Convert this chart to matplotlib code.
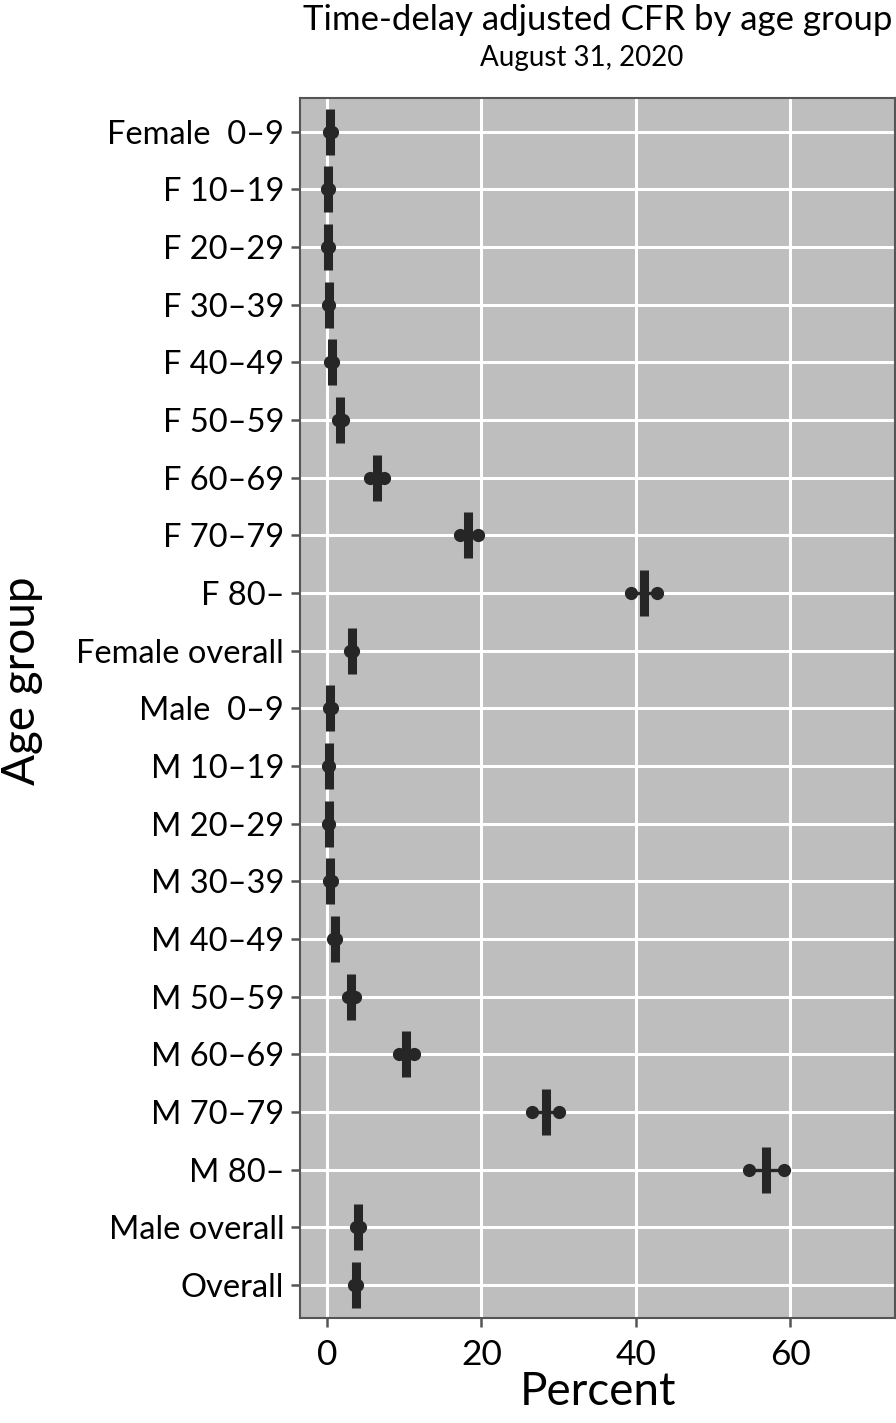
import matplotlib
matplotlib.use("Agg")
from matplotlib import pyplot as plt

plt.rcParams['font.family'] = ['Lato', 'DejaVu Sans']

groups = ['Female  0–9', 'F 10–19', 'F 20–29', 'F 30–39', 'F 40–49', 'F 50–59',
          'F 60–69', 'F 70–79', 'F 80–', 'Female overall',
          'Male  0–9', 'M 10–19', 'M 20–29', 'M 30–39', 'M 40–49', 'M 50–59',
          'M 60–69', 'M 70–79', 'M 80–', 'Male overall', 'Overall']
cfr = [0.4, 0.1, 0.1, 0.2, 0.6, 1.7, 6.5, 18.3, 41.1, 3.2,
       0.4, 0.2, 0.2, 0.4, 1.0, 3.1, 10.2, 28.4, 56.9, 4.0, 3.7]
ci_low = [0.2, 0.0, 0.0, 0.1, 0.4, 1.4, 5.6, 17.2, 39.4, 3.0,
          0.2, 0.1, 0.1, 0.2, 0.8, 2.7, 9.3, 26.6, 54.7, 3.8, 3.5]
ci_high = [0.6, 0.2, 0.2, 0.3, 0.8, 2.0, 7.4, 19.6, 42.7, 3.4,
           0.6, 0.3, 0.3, 0.6, 1.2, 3.6, 11.3, 30.0, 59.2, 4.3, 3.9]

pos = list(range(len(groups)))
dark = '#262626'

fig = plt.figure(figsize=(8.96, 14.23), dpi=100)
ax = fig.add_axes([0.335, 0.0735, 0.664, 0.8575])
ax.set_facecolor('#bebebe')

# CI line with dots at both ends, thick bar at the estimate
ax.hlines(pos, ci_low, ci_high, color=dark, lw=2.4, zorder=3)
ax.plot(ci_low, pos, 'o', color=dark, ms=9.5, mew=0, zorder=4)
ax.plot(ci_high, pos, 'o', color=dark, ms=9.5, mew=0, zorder=4)
ax.plot(cfr, pos, '|', color=dark, ms=33, mew=6.5, zorder=5)

ax.set_xlim(-3.5, 73.6)
ax.set_ylim(20.58, -0.58)
ax.set_xticks([0, 20, 40, 60])
ax.set_yticks(pos)
ax.set_yticklabels(groups)
ax.grid(True, color='white', lw=2.2)
ax.set_axisbelow(True)

for sp in ax.spines.values():
    sp.set_color('#555555')
    sp.set_linewidth(1.5)
ax.tick_params(axis='both', colors='#555555', width=1.8, length=6.5, labelcolor='black')
ax.tick_params(axis='y', labelsize=23.5, pad=5)
ax.tick_params(axis='x', labelsize=25.5, pad=8)

ax.set_xlabel('Percent', fontsize=33, labelpad=0)
ax.set_ylabel('Age group', fontsize=33)
ax.yaxis.set_label_coords(-0.432, 0.523)

fig.text(0.667, 0.986, 'Time-delay adjusted CFR by age group', ha='center', va='center', fontsize=25)
fig.text(0.649, 0.959, 'August 31, 2020', ha='center', va='center', fontsize=20)

fig.savefig('out.png', dpi=100)
